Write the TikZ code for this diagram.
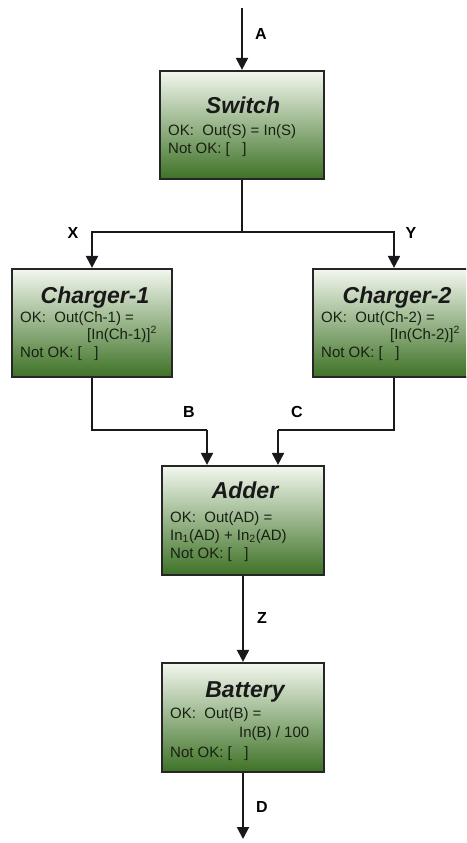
\documentclass[tikz,border=0pt]{standalone}
\usepackage{fontspec}
\setmainfont{Liberation Sans}
\usetikzlibrary{arrows.meta}
\definecolor{gtop}{RGB}{242,247,238}
\definecolor{gmid}{RGB}{112,162,72}
\definecolor{gbot}{RGB}{62,114,38}
\definecolor{txt}{RGB}{24,32,18}
\begin{document}
\begin{tikzpicture}[x=1pt,y=-1pt,
  box/.style={draw=black!85, line width=2.2pt, top color=gtop, middle color=gmid, bottom color=gbot, inner sep=0pt},
  ttl/.style={font=\fontsize{23}{25}\selectfont\bfseries\itshape, text=black!90, inner sep=0pt, anchor=base},
  body/.style={font=\fontsize{15}{17}\selectfont, text=txt, inner sep=0pt, anchor=base west},
  lbl/.style={font=\fontsize{16}{18}\selectfont\bfseries, inner sep=0pt},
  wire/.style={line width=2pt, draw=black!90},
  arr/.style={wire, -{Triangle[width=12pt,length=12pt]}}]
\useasboundingbox (0,0) rectangle (466,843);
\clip (0,0) rectangle (466,843);

% boxes
\node[box, minimum width=164pt, minimum height=108pt] (sw) at (242,125) {};
\node[box, minimum width=160pt, minimum height=108pt] (c1) at (92,323) {};
\node[box, minimum width=162pt, minimum height=108pt] (c2) at (394,323) {};
\node[box, minimum width=162pt, minimum height=109pt] (ad) at (243,520.5) {};
\node[box, minimum width=162pt, minimum height=109pt] (bt) at (243,717.5) {};

% Switch text
\node[ttl] (swt) at (243,113) {Switch};
\node[body] (sw1) at (168,135) {OK:\ \ Out(S) = In(S)};
\node[body] (sw2) at (168,153) {Not OK: [\ \ \ ]};

% Charger-1 text
\node[ttl] (c1t) at (95,303) {Charger-1};
\node[body] (c11) at (20,322) {OK:\ \ Out(Ch-1) =};
\node[body] (c12) at (87,339) {[In(Ch-1)]\textsuperscript{2}};
\node[body] (c13) at (20,357) {Not OK: [\ \ \ ]};

% Charger-2 text
\node[ttl] (c2t) at (397,303) {Charger-2};
\node[body] (c21) at (321,322) {OK:\ \ Out(Ch-2) =};
\node[body] (c22) at (390,339) {[In(Ch-2)]\textsuperscript{2}};
\node[body] (c23) at (321,357) {Not OK: [\ \ \ ]};

% Adder text
\node[ttl] (adt) at (245,498) {Adder};
\node[body] (ad1) at (170,522) {OK:\ \ Out(AD) =};
\node[body] (ad2) at (170,540) {In\textsubscript{1}(AD) + In\textsubscript{2}(AD)};
\node[body] (ad3) at (170,558) {Not OK: [\ \ \ ]};

% Battery text
\node[ttl] (btt) at (245,697) {Battery};
\node[body] (bt1) at (170,718) {OK:\ \ Out(B) =};
\node[body] (bt2) at (239,737) {In(B) / 100};
\node[body] (bt3) at (170,757) {Not OK: [\ \ \ ]};

% connectors
\coordinate (in) at (242,8);
\coordinate (split) at (242,232);
\coordinate (out) at (243,839);
\coordinate (jb) at (207,430);
\coordinate (jc) at (278,430);

\draw[arr] (in) -- (sw.north);
\draw[wire] (sw.south) -- (split);
\draw[arr] (split) -| (c1.north);
\draw[arr] (split) -| (c2.north);
\draw[wire] (c1.south) |- (jb);
\draw[arr] (jb) -- (jb |- ad.north);
\draw[wire] (c2.south) |- (jc);
\draw[arr] (jc) -- (jc |- ad.north);
\draw[arr] (ad.south) -- (bt.north);
\draw[arr] (bt.south) -- (out);

% labels
\node[lbl] (la) at (261,34) {A};
\node[lbl] (lx) at (73,233) {X};
\node[lbl] (ly) at (411,233) {Y};
\node[lbl] (lb) at (189,412) {B};
\node[lbl] (lc) at (297,412) {C};
\node[lbl] (lz) at (262,618) {Z};
\node[lbl] (ld) at (262,807) {D};
\end{tikzpicture}
\end{document}
